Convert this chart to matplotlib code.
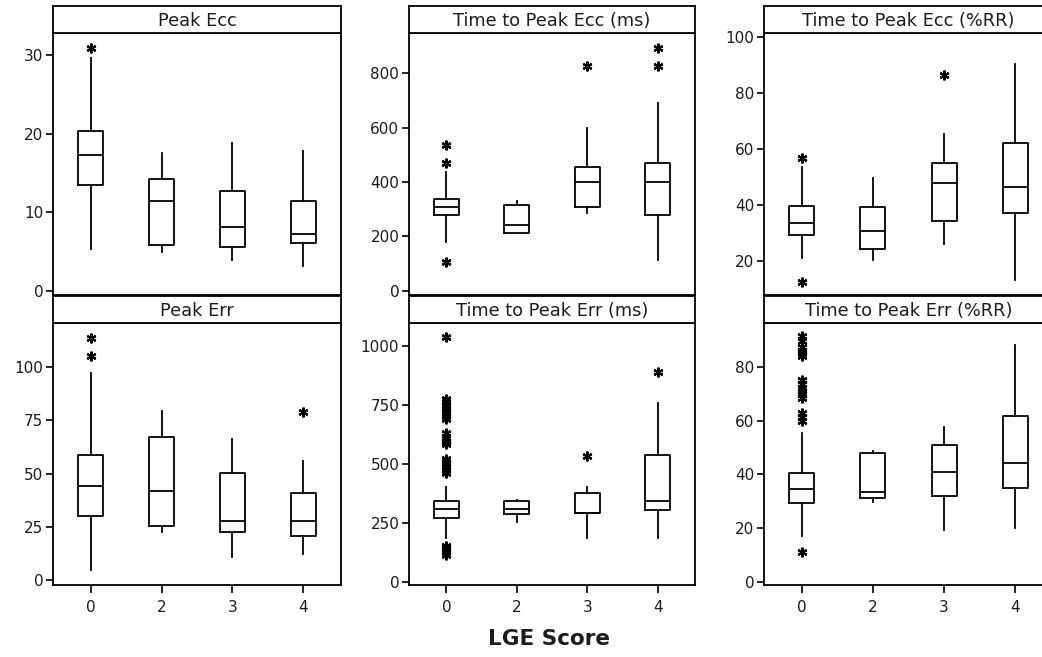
import matplotlib
matplotlib.use('Agg')
import matplotlib.pyplot as plt

groups = ['0', '2', '3', '4']

# five-number summaries per LGE group: (low whisker, Q1, median, Q3, high whisker)
peak_ecc = [(5.3, 13.5, 17.3, 20.3, 29.6), (5.0, 5.8, 11.4, 14.2, 17.6),
            (3.9, 5.55, 8.1, 12.7, 18.8), (3.2, 6.1, 7.3, 11.4, 17.8)]
peak_ecc_out = [[30.9], [], [], []]

ttp_ecc_ms = [(180, 278, 309, 337, 436), (212, 212, 241, 316, 330),
              (285, 307, 401, 456, 597), (114, 278, 401, 470, 691)]
ttp_ecc_ms_out = [[536, 469, 108], [], [827], [893, 827]]

ttp_ecc_rr = [(21.0, 29.2, 33.5, 39.8, 53.7), (20.4, 24.2, 30.7, 39.2, 49.5),
              (26.0, 34.3, 47.8, 54.9, 65.2), (13.2, 37.0, 46.3, 62.0, 90.2)]
ttp_ecc_rr_out = [[56.9, 12.6], [], [86.3], []]

peak_err = [(4.7, 30.0, 44.3, 58.7, 97.0), (22.5, 25.5, 41.6, 67.0, 79.3),
            (10.9, 22.7, 27.6, 50.1, 66.2), (12.1, 20.8, 27.6, 40.7, 55.9)]
peak_err_out = [[113.5, 105.2], [], [], [78.7]]

ttp_err_ms = [(185, 272, 309, 342, 401), (253, 288, 309, 342, 345),
              (185, 291, 291, 376, 404), (185, 305, 342, 538, 757)]
ttp_err_ms_out = [[1037, 775, 762, 748, 738, 728, 716, 704, 690,
                   630, 608, 598, 592, 585,
                   522, 508, 498, 488, 476, 462,
                   152, 146, 140, 128, 112],
                  [], [535], [891]]

ttp_err_rr = [(17.1, 29.2, 34.5, 40.4, 55.5), (29.6, 31.3, 33.6, 47.8, 48.7),
              (19.3, 32.1, 41.0, 50.8, 57.7), (20.0, 35.1, 44.1, 61.8, 88.1)]
ttp_err_rr_out = [[91.5, 89.5, 87.5, 86.0, 85.0, 84.2,
                   75.0, 73.5, 72.2, 71.0, 69.8, 68.6,
                   63.0, 61.3, 59.8, 11.0],
                  [], [], []]

W, H = 1042, 657
fig = plt.figure(figsize=(W / 100, H / 100), dpi=100)

col_left = [53, 409, 764]
col_width = [288, 286, 289]
row_top = [33, 323]      # top edge of plotting area (px)
row_height = 262
strip_h = 27
text_col = '#1c1c1c'


def draw_panel(col, row, title, summary, outliers, ylim, yticks):
    x0, w = col_left[col], col_width[col]
    top = row_top[row]
    ax = fig.add_axes([x0 / W, 1 - (top + row_height) / H, w / W, row_height / H])
    strip = fig.add_axes([x0 / W, 1 - top / H, w / W, strip_h / H])
    strip.set_xticks([])
    strip.set_yticks([])
    for s in strip.spines.values():
        s.set_linewidth(1.3)
    strip.text(0.5, 0.45, title, ha='center', va='center', fontsize=12.8, color=text_col)

    stats = []
    for (lo, q1, med, q3, hi), fl in zip(summary, outliers):
        stats.append(dict(whislo=lo, q1=q1, med=med, q3=q3, whishi=hi, fliers=fl))
    line = dict(color='black', linewidth=1.3)
    ax.bxp(stats, positions=range(len(groups)), widths=0.35, showcaps=False,
           boxprops=line, whiskerprops=line, medianprops=line,
           flierprops=dict(marker=(6, 2, 0), markersize=7, markeredgewidth=1.6,
                           markeredgecolor='black', linestyle='none'))
    ax.set_xlim(-0.53, 3.53)
    ax.set_ylim(*ylim)
    ax.set_yticks(yticks)
    for s in ax.spines.values():
        s.set_linewidth(1.3)
    ax.tick_params(axis='y', length=5, width=1.2, labelsize=11, labelcolor=text_col, pad=2)
    if row == 0:
        ax.set_xticks([])
    else:
        ax.set_xticks(range(len(groups)))
        ax.set_xticklabels(groups)
        ax.tick_params(axis='x', length=6, width=1.2, labelsize=11,
                       labelcolor=text_col, pad=5)
    return ax


draw_panel(0, 0, 'Peak Ecc', peak_ecc, peak_ecc_out, (-0.5, 32.8), [0, 10, 20, 30])
draw_panel(1, 0, 'Time to Peak Ecc (ms)', ttp_ecc_ms, ttp_ecc_ms_out, (-15, 947),
           [0, 200, 400, 600, 800])
draw_panel(2, 0, 'Time to Peak Ecc (%RR)', ttp_ecc_rr, ttp_ecc_rr_out, (7.9, 101.4),
           [20, 40, 60, 80, 100])
draw_panel(0, 1, 'Peak Err', peak_err, peak_err_out, (-2.3, 120.6), [0, 25, 50, 75, 100])
draw_panel(1, 1, 'Time to Peak Err (ms)', ttp_err_ms, ttp_err_ms_out, (-13, 1097),
           [0, 250, 500, 750, 1000])
draw_panel(2, 1, 'Time to Peak Err (%RR)', ttp_err_rr, ttp_err_rr_out, (-1.1, 96.3),
           [0, 20, 40, 60, 80])

fig.text(549 / W, 1 - 639 / H, 'LGE Score', ha='center', va='center',
         fontsize=15.5, fontweight='bold', color=text_col)

fig.savefig('out.png', dpi=100)
